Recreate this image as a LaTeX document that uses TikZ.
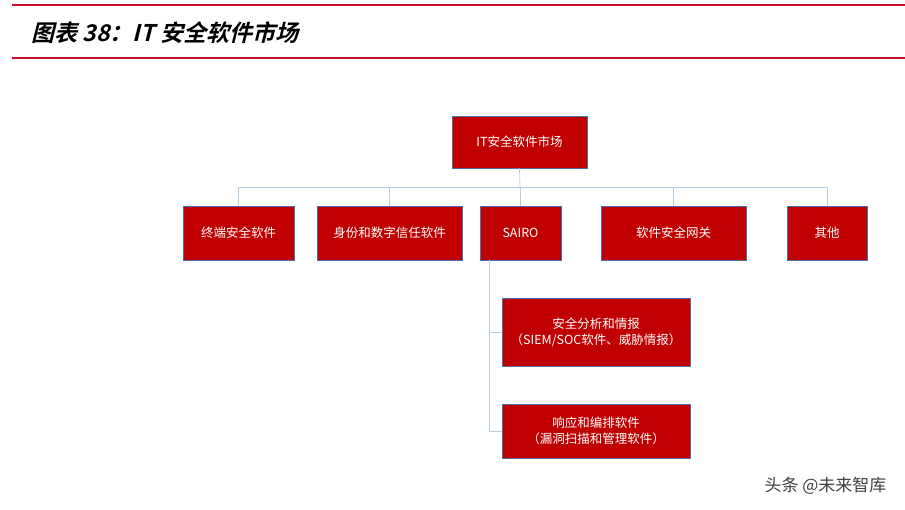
\documentclass[tikz,border=0pt]{standalone}
\usepackage{fontspec}
\setmainfont{Noto Sans CJK SC}
\newfontfamily\titlefont[FakeSlant=0.25]{Noto Sans CJK SC Bold}
\usetikzlibrary{calc}
\definecolor{boxred}{HTML}{C00000}
\definecolor{boxedge}{HTML}{4F6FA8}
\definecolor{linkblue}{HTML}{B4CCE4}
\definecolor{rulered}{HTML}{C8102E}
\begin{document}
\begin{tikzpicture}[x=1pt,y=-1pt]
	\tikzset{box/.style={draw=boxedge,line width=0.6pt,fill=boxred,text=white,font=\fontsize{12.5}{16}\selectfont,align=center,inner sep=0pt}}
	\tikzset{link/.style={draw=linkblue,line width=0.8pt}}
	\useasboundingbox (0,0) rectangle (905,509);
	\draw[rulered,line width=1.2pt] (12,5) -- (905,5);
	\draw[rulered,line width=1.2pt] (12,58) -- (905,58);
	\node[anchor=west,font=\fontsize{23}{26}\selectfont\titlefont] (title) at (28,33) {图表 38：IT 安全软件市场};
	% boxes
	\node[box,minimum width=135pt,minimum height=52pt] (root) at (519.5,142) {IT安全软件市场};
	\node[box,minimum width=111pt,minimum height=54pt] (end) at (238.5,233) {终端安全软件};
	\node[box,minimum width=145pt,minimum height=54pt] (idt) at (389.5,233) {身份和数字信任软件};
	\node[box,minimum width=81pt,minimum height=54pt] (sairo) at (520.5,233) {SAIRO};
	\node[box,minimum width=145pt,minimum height=54pt] (gw) at (673.5,233) {软件安全网关};
	\node[box,minimum width=80pt,minimum height=54pt] (other) at (827,233) {其他};
	\node[box,minimum width=188pt,minimum height=68pt] (siem) at (596,332) {安全分析和情报\\（SIEM/SOC软件、威胁情报）};
	\node[box,minimum width=188pt,minimum height=54pt] (resp) at (596,431) {响应和编排软件\\（漏洞扫描和管理软件）};
	% connectors
	\coordinate (bus) at (520,187);
	\draw[link] (root.south) -- (bus);
	\foreach \n in {end,idt,sairo,gw,other}
		\draw[link] (\n.north) -- (\n.north |- bus);
	\draw[link] (end.north |- bus) -- (other.north |- bus);
	\coordinate (stem) at ($(sairo.south west)+(10,0)$);
	\draw[link] (stem) |- (resp.west);
	\draw[link] (stem |- siem.west) -- (siem.west);
	\node[anchor=east,font=\fontsize{17}{19}\selectfont,text=black!75] (mark) at (890,486) {头条 @未来智库};
\end{tikzpicture}
\end{document}
